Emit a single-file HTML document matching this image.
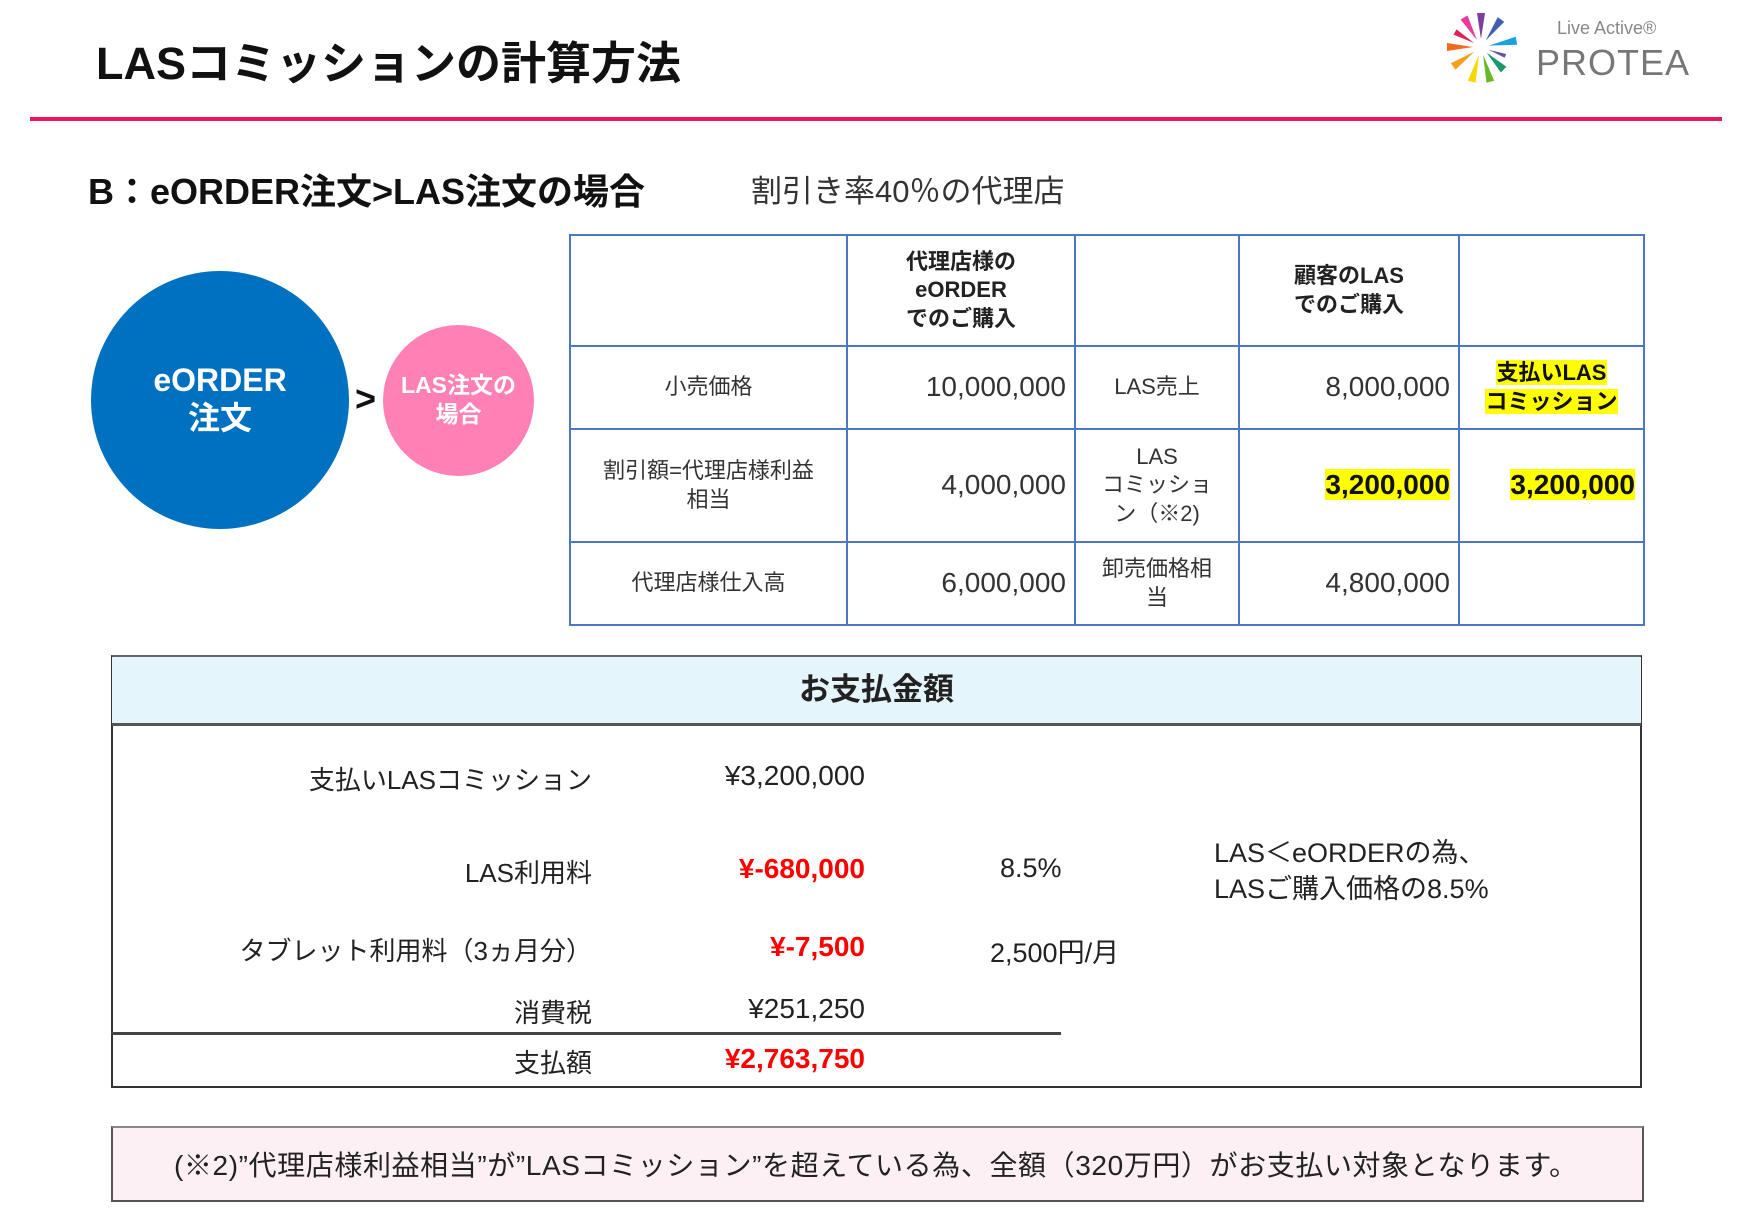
<!DOCTYPE html>
<html><head><meta charset="utf-8"><style>
*{margin:0;padding:0;box-sizing:border-box}
body{width:1753px;height:1232px;background:#fff;position:relative;overflow:hidden;font-family:"Liberation Sans","Noto Sans CJK JP",sans-serif;color:#222}
.a{position:absolute;white-space:nowrap}
table{position:absolute;left:569px;top:234px;border-collapse:collapse;table-layout:fixed;width:1074px}
td{border:2px solid #4a78c4;text-align:center;font-size:22px;color:#333;line-height:1.3;padding:0 8px;white-space:nowrap}
td.n{text-align:right;font-size:28px}
.hl{background:#ffff00;font-weight:bold;color:#111}
.r{text-align:right}
</style></head><body>
<div class="a" style="left:96px;top:27px;font-size:45px;font-weight:bold;color:#111">LASコミッションの計算方法</div>
<div class="a" style="left:30px;top:117px;width:1692px;height:4px;background:#f0145a"></div>
<svg class="a" style="left:1440px;top:0" width="300" height="110">
<g transform="translate(41,47)">
<path d="M0,-8 L-4,-34 L4,-34Z" fill="#7b3fa0" transform="rotate(0)"/>
<path d="M0,-8 L-4,-34 L4,-34Z" fill="#3d5fb0" transform="rotate(36)"/>
<path d="M0,-8 L-4,-36 L4,-36Z" fill="#1aa0e0" transform="rotate(80)"/>
<path d="M0,-8 L-2,-26 L2,-26Z" fill="#6a4fa0" transform="rotate(110)"/>
<path d="M0,-8 L-4,-32 L4,-32Z" fill="#1a9a6a" transform="rotate(135)"/>
<path d="M0,-8 L-4,-36 L4,-36Z" fill="#6ab82a" transform="rotate(165)"/>
<path d="M0,-8 L-4,-36 L4,-36Z" fill="#f5d800" transform="rotate(195)"/>
<path d="M0,-8 L-4,-34 L4,-34Z" fill="#f5a020" transform="rotate(235)"/>
<path d="M0,-8 L-4,-34 L4,-34Z" fill="#f06a20" transform="rotate(270)"/>
<path d="M0,-8 L-3,-30 L3,-30Z" fill="#e0205a" transform="rotate(300)"/>
<path d="M0,-8 L-4,-34 L4,-34Z" fill="#e83a9a" transform="rotate(330)"/>
</g>
<text x="117" y="34" font-size="18" fill="#888" font-family="Liberation Sans">Live Active®</text>
<text x="96" y="75" font-size="36" fill="#777" font-family="Liberation Sans" letter-spacing="1">PROTEA</text>
</svg>
<div class="a" style="left:88px;top:163px;font-size:36px;font-weight:bold;color:#111">B：eORDER注文&gt;LAS注文の場合</div>
<div class="a" style="left:751px;top:166px;font-size:31px;color:#333">割引き率40％の代理店</div>
<div class="a" style="left:91px;top:271px;width:258px;height:258px;border-radius:50%;background:#0070c0;color:#fff;font-size:32px;font-weight:bold;text-align:center;line-height:38px;padding-top:90px">eORDER<br>注文</div>
<div class="a" style="left:355px;top:378px;font-size:36px;font-weight:bold;color:#111">&gt;</div>
<div class="a" style="left:383px;top:325px;width:151px;height:151px;border-radius:50%;background:#ff80b4;color:#fff;font-size:23px;font-weight:bold;text-align:center;line-height:29px;padding-top:46px">LAS注文の<br>場合</div>
<table>
<colgroup><col style="width:277px"><col style="width:228px"><col style="width:164px"><col style="width:220px"><col style="width:185px"></colgroup>
<tr style="height:111px"><td></td><td style="font-weight:bold;color:#222">代理店様の<br>eORDER<br>でのご購入</td><td></td><td style="font-weight:bold;color:#222">顧客のLAS<br>でのご購入</td><td></td></tr>
<tr style="height:83px"><td>小売価格</td><td class="n">10,000,000</td><td>LAS売上</td><td class="n">8,000,000</td><td><span class="hl">支払いLAS<br>コミッション</span></td></tr>
<tr style="height:113px"><td>割引額=代理店様利益<br>相当</td><td class="n">4,000,000</td><td>LAS<br>コミッショ<br>ン（※2)</td><td class="n"><span class="hl">3,200,000</span></td><td class="n"><span class="hl">3,200,000</span></td></tr>
<tr style="height:83px"><td>代理店様仕入高</td><td class="n">6,000,000</td><td>卸売価格相<br>当</td><td class="n">4,800,000</td><td></td></tr>
</table>
<div class="a" style="left:111px;top:655px;width:1531px;height:433px;border:2px solid #333;border-top-color:#666"></div>
<div class="a" style="left:112px;top:657px;width:1529px;height:69px;background:#e5f5fc;border-bottom:3px solid #555;text-align:center;font-size:31px;font-weight:bold;line-height:66px;color:#222">お支払金額</div>
<div class="a r" style="right:1161px;top:760px;font-size:26px">支払いLASコミッション</div>
<div class="a r" style="right:888px;top:760px;font-size:28px">¥3,200,000</div>
<div class="a r" style="right:1161px;top:853px;font-size:26px">LAS利用料</div>
<div class="a r" style="right:888px;top:853px;font-size:28px;color:#f00;font-weight:bold">¥-680,000</div>
<div class="a" style="left:1000px;top:853px;font-size:27px">8.5%</div>
<div class="a" style="left:1214px;top:835px;font-size:27px;line-height:36px">LAS＜eORDERの為、<br>LASご購入価格の8.5%</div>
<div class="a r" style="right:1161px;top:931px;font-size:26px">タブレット利用料（3ヵ月分）</div>
<div class="a r" style="right:888px;top:931px;font-size:28px;color:#f00;font-weight:bold">¥-7,500</div>
<div class="a" style="left:990px;top:931px;font-size:27px">2,500円/月</div>
<div class="a r" style="right:1161px;top:993px;font-size:26px">消費税</div>
<div class="a r" style="right:888px;top:993px;font-size:28px">¥251,250</div>
<div class="a" style="left:111px;top:1032px;width:950px;height:3px;background:#444"></div>
<div class="a r" style="right:1161px;top:1043px;font-size:26px">支払額</div>
<div class="a r" style="right:888px;top:1043px;font-size:28px;color:#f00;font-weight:bold">¥2,763,750</div>
<div class="a" style="left:111px;top:1126px;width:1533px;height:76px;background:#fdf0f4;border:2px solid #555;border-top-color:#888"></div>
<div class="a" style="left:174px;top:1144px;font-size:28px;letter-spacing:0.6px;color:#222">(※2)”代理店様利益相当”が”LASコミッション”を超えている為、全額（320万円）がお支払い対象となります。</div>
</body></html>
